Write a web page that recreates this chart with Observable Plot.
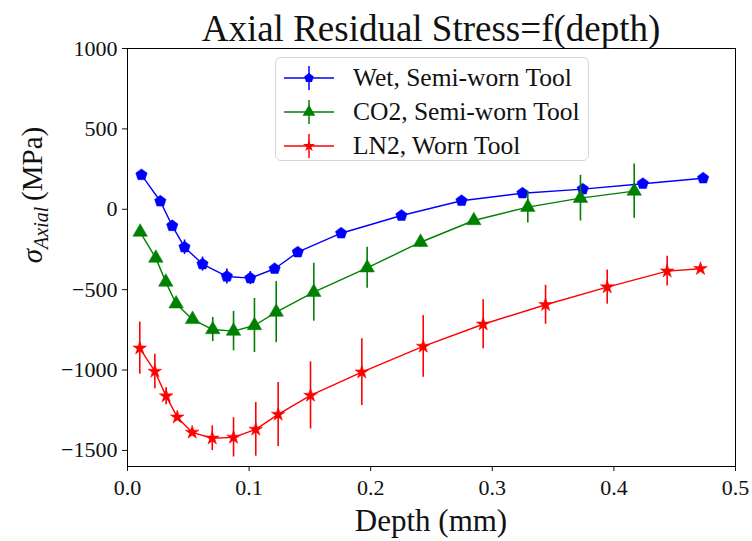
<!DOCTYPE html>
<html><head><meta charset="utf-8">
<script src="https://cdn.jsdelivr.net/npm/d3@7"></script>
<script src="https://cdn.jsdelivr.net/npm/@observablehq/plot@0.6"></script>
<style>
body{margin:0;background:#fff;}
#wrap{position:relative;width:752px;height:541px;}
#legend{position:absolute;left:275px;top:57px;width:314px;height:104px;box-sizing:border-box;border:1.5px solid #d6d6d6;border-radius:6px;background:rgba(255,255,255,0.85);font-family:"Liberation Serif",serif;font-size:25.5px;color:#111;}
.row{position:absolute;left:0;height:34px;display:flex;align-items:center;}
.row svg{margin-left:7px;margin-right:18px;}
</style></head><body><div id="wrap"></div>
<script>
const seriesNames = ["Wet, Semi-worn Tool", "CO2, Semi-worn Tool", "LN2, Worn Tool"];
const seriesColors = ["#0000ff", "#008000", "#ff0000"];

const depthWet  = [0.0115,0.027,0.0368,0.0469,0.0617,0.0817,0.101,0.121,0.140,0.1757,0.2253,0.2747,0.3248,0.3744,0.4238,0.4734];
const stressWet = [214,50,-103,-236,-341,-418,-428,-370,-267,-149,-39,53,100,125,159,193];
const errWet    = [10,20,33,45,44,47,41,15,10,8,8,8,8,8,8,8];

const depthCO2  = [0.0104,0.0233,0.0315,0.0400,0.0535,0.0701,0.0872,0.1044,0.1223,0.1532,0.1971,0.2410,0.2848,0.3292,0.3725,0.4167];
const stressCO2 = [-142,-304,-453,-588,-685,-748,-758,-723,-640,-516,-364,-205,-70,13,69,113];
const errCO2    = [10,10,15,15,15,75,122,168,190,180,128,30,20,99,142,169];

const depthLN2  = [0.0101,0.0225,0.0318,0.0409,0.0532,0.0697,0.0872,0.1055,0.1239,0.1505,0.1927,0.2432,0.2925,0.3438,0.3945,0.4438,0.4712];
const stressLN2 = [-864,-1009,-1162,-1293,-1388,-1424,-1419,-1369,-1276,-1158,-1013,-853,-715,-594,-484,-385,-370];
const errLN2    = [162,107,54,20,20,77,122,167,199,209,208,192,152,121,106,93,0];

const yTicks = [-1500,-1000,-500,0,500,1000];
const xTicks = [0,0.1,0.2,0.3,0.4,0.5];

const pentagon = {draw(ctx, size){
  const r = Math.sqrt(size / (2.5 * Math.sin(2*Math.PI/5)));
  for (let i=0;i<5;i++){const a=-Math.PI/2+i*2*Math.PI/5;const x=r*Math.cos(a),y=r*Math.sin(a); i?ctx.lineTo(x,y):ctx.moveTo(x,y);}
  ctx.closePath();
}};
const symbols = [pentagon, "triangle", "star"];
const radii = [5.2, 5.4, 4.3];

function rows(d, s, e){ return d.map((x,i)=>({x, y:s[i], e:e[i]})); }
const series = [rows(depthWet,stressWet,errWet), rows(depthCO2,stressCO2,errCO2), rows(depthLN2,stressLN2,errLN2)];

const font = "Liberation Serif, serif";
const marks = [];
series.forEach((data, k) => {
  const c = seriesColors[k];
  marks.push(Plot.ruleX(data, {x:"x", y1:d=>d.y-d.e, y2:d=>d.y+d.e, stroke:c, strokeWidth:1.6}));
  marks.push(Plot.line(data, {x:"x", y:"y", stroke:c, strokeWidth:1.4}));
  marks.push(Plot.dot(data, {x:"x", y:"y", fill:c, stroke:c, strokeWidth:0.5, symbol:symbols[k], r:radii[k]}));
});
marks.push(Plot.frame({stroke:"black", strokeWidth:1}));

const chart = Plot.plot({
  width:752, height:541,
  marginLeft:127, marginRight:17, marginTop:48, marginBottom:75,
  style:{fontFamily:font, fontSize:"22px", color:"#111", background:"#fff", overflow:"visible"},
  x:{domain:[0,0.5], ticks:xTicks, tickFormat:d3.format(".1f"), tickSize:5, tickPadding:8, label:null},
  y:{domain:[-1600,1000], ticks:yTicks, tickFormat:d=>d<0?"\u2212"+Math.abs(d):String(d), tickSize:5, tickPadding:5, label:null},
  marks
});
const wrap = document.getElementById("wrap");
wrap.appendChild(chart);

const svg = d3.select(chart);
svg.append("text").attr("x",431).attr("y",41).attr("text-anchor","middle")
  .attr("font-family",font).attr("font-size",37).attr("fill","#111").text("Axial Residual Stress=f(depth)");
svg.append("text").attr("x",431).attr("y",531).attr("text-anchor","middle")
  .attr("font-family",font).attr("font-size",31).attr("fill","#111").text("Depth (mm)");
const yl = svg.append("text").attr("transform","translate(42,195) rotate(-90)").attr("text-anchor","middle")
  .attr("font-family",font).attr("font-size",29).attr("fill","#111");
yl.append("tspan").attr("font-style","italic").text("\u03c3");
yl.append("tspan").attr("font-style","italic").attr("font-size",20).attr("dy",6).text("Axial");
yl.append("tspan").attr("dy",-6).text("\u2009(MPa)");

// legend
const leg = document.createElement("div"); leg.id="legend"; wrap.appendChild(leg);
const symPaths = [
  d3.symbol(pentagon, 60)(),
  d3.symbol(d3.symbolTriangle, 70)(),
  d3.symbol(d3.symbolStar, 45)()
];
seriesNames.forEach((name,k)=>{
  const r = document.createElement("div"); r.className="row"; r.style.top=(3+k*34)+"px";
  const c = seriesColors[k];
  r.innerHTML = `<svg width="52" height="34"><line x1="1" x2="51" y1="17" y2="17" stroke="${c}" stroke-width="1.5"/><line x1="26" x2="26" y1="5" y2="29" stroke="${c}" stroke-width="1.5"/><path d="${symPaths[k]}" transform="translate(26,17)" fill="${c}"/></svg><span>${name}</span>`;
  leg.appendChild(r);
});
</script></body></html>
